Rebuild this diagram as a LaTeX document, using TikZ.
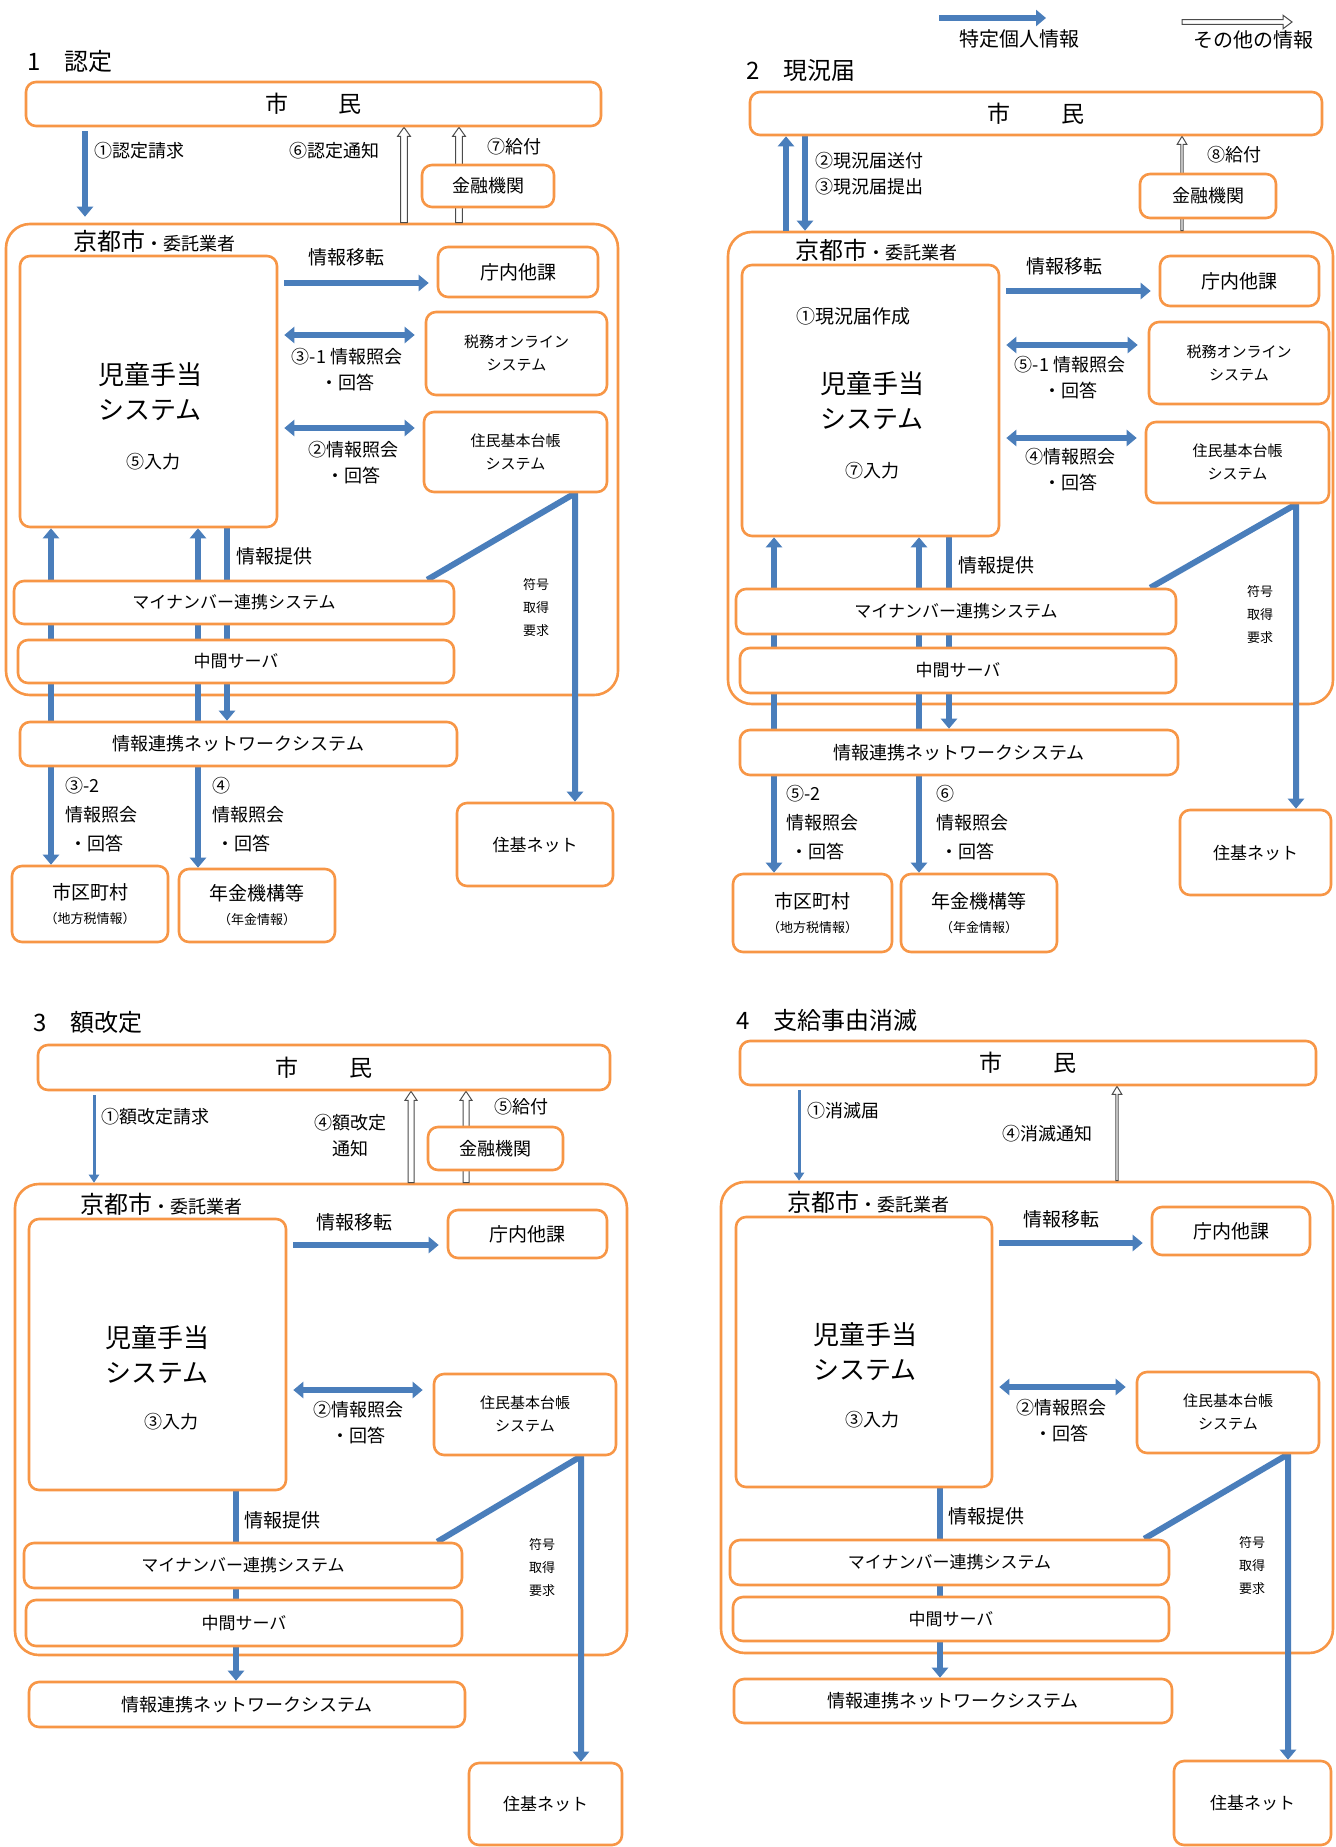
\documentclass[tikz,border=0pt]{standalone}
\usepackage{fontspec}
\setmainfont{Noto Sans CJK JP}
\usetikzlibrary{arrows.meta,calc}
\definecolor{bor}{HTML}{F79646}
\definecolor{arb}{HTML}{4A7EBB}
\pgfdeclarelayer{back}\pgfdeclarelayer{mid}
\pgfsetlayers{back,mid,main}
\newcommand\hollowup[5]{%
 \draw[hollow] let \p1=#1, \p2=#2 in (\x1-#3,\y1) -- (\x1-#3,\y2-#5) -- (\x1-#4,\y2-#5) -- (\x1,\y2) -- (\x1+#4,\y2-#5) -- (\x1+#3,\y2-#5) -- (\x1+#3,\y1) -- cycle;}
\tikzset{
 bb/.style n args={4}{at={({(#1+#3)/2},{(#2+#4)/2})}, minimum width={(#3-#1)*0.5pt}, minimum height={(#4-#2)*0.5pt}},
 box/.style={draw=bor, line width=1.3pt, rounded corners=5pt, fill=white, inner sep=0pt, align=center},
 obox/.style={draw=bor, line width=1.3pt, rounded corners=12pt, inner sep=0pt},
 ba/.style={draw=arb, line width=3pt, -{Triangle[width=8pt,length=5pt]}},
 bd/.style={draw=arb, line width=3pt, {Triangle[width=8pt,length=5pt]}-{Triangle[width=8pt,length=5pt]}},
 bt/.style={draw=arb, line width=1.5pt, -{Triangle[width=5pt,length=4pt]}},
 hollow/.style={draw=black!70, line width=0.5pt, fill=white},
 lb/.style={inner sep=0pt, align=center},
 f65/.style={font=\fontsize{6.5}{11.5}\selectfont},
 f75/.style={font=\fontsize{7.5}{11.5}\selectfont},
 f8/.style={font=\fontsize{8.5}{11}\selectfont},
 f9/.style={font=\fontsize{9}{13}\selectfont},
 f9l/.style={font=\fontsize{9}{14.5}\selectfont},
 f95/.style={font=\fontsize{9.5}{12}\selectfont},
 f10/.style={font=\fontsize{10}{12}\selectfont},
 f11/.style={font=\fontsize{11.5}{14}\selectfont},
 f12/.style={font=\fontsize{12}{14}\selectfont},
 f13/.style={font=\fontsize{13}{17.5}\selectfont},
}
\begin{document}
\begin{tikzpicture}[x=0.5pt,y=-0.5pt]
\begin{pgfonlayer}{back}
\fill[white] (0,0) rectangle (1335,1847);
\end{pgfonlayer}
\useasboundingbox (0,0) rectangle (1335,1847);

% ---------- legend ----------
\coordinate (leg1a) at (939,18); \coordinate (leg1b) at (1046,18);
\coordinate (leg2a) at (1182,22); \coordinate (leg2b) at (1292,22);
\node[lb,f10] (leg1t) at (1019,39) {特定個人情報};
\node[lb,f10] (leg2t) at (1253,40) {その他の情報};

% ---------- panel 1 ----------
\node[lb,f12,anchor=west] (title1) at (27,61) {1　認定};
\node[box,f11,bb={26}{82}{601}{126}] (shimin1) {市\hspace{2.2em}民};
\node[box,f9,bb={422}{165}{554}{207}] (kinyu1) {金融機関};
\begin{pgfonlayer}{back}\node[obox,bb={6}{224}{618}{695}] (outer1) {};\end{pgfonlayer}
\node[lb,anchor=west] (kyoto1) at (73,241) {{\fontsize{12}{14}\selectfont 京都市}{\fontsize{9}{11}\selectfont ・委託業者}};
\node[box,bb={20}{256}{277}{527}] (jidou1) {};
\node[lb,f13] (jidou1t) at (150,392) {児童手当\\システム};
\node[lb,f9] (nyu1) at (153,462) {⑤入力};
\node[box,f95,bb={438}{247}{598}{297}] (chounai1) {庁内他課};
\node[box,f75,bb={426}{312}{607}{395}] (zeimu1) {税務オンライン\\システム};
\node[box,f75,bb={424}{412}{607}{492}] (juki1) {住民基本台帳\\システム};
\node[box,f8,bb={14}{581}{454}{624}] (mynum1) {マイナンバー連携システム};
\node[box,f8,bb={18}{640}{454}{683}] (chukan1) {中間サーバ};
\node[box,f9,bb={20}{722}{457}{766}] (nws1) {情報連携ネットワークシステム};
\node[box,f8,bb={457}{803}{613}{886}] (jukinet1) {住基ネット};
\node[box,bb={12}{866}{168}{942}] (shiku1) {\fontsize{9.5}{13}\selectfont 市区町村\\\fontsize{6.5}{9}\selectfont （地方税情報）};
\node[box,bb={179}{869}{335}{942}] (nenkin1) {\fontsize{9.5}{13}\selectfont 年金機構等\\\fontsize{6.5}{9}\selectfont （年金情報）};
\node[lb,f9,anchor=west] (l1a) at (94,151) {①認定請求};
\node[lb,f9] (l1b) at (334,151) {⑥認定通知};
\node[lb,f9] (l1c) at (514,147) {⑦給付};
\node[lb,f95] (l1d) at (346,257) {情報移転};
\node[lb,f9] (l1e) at (347,370) {③-1 情報照会\\・回答};
\node[lb,f9] (l1f) at (353,463) {②情報照会\\・回答};
\node[lb,f95,anchor=west] (l1g) at (236,556) {情報提供};
\node[lb,f65] (l1h) at (536,608) {符号\\取得\\要求};
\node[lb,f9l,anchor=north west,align=left] (l1i) at (65,777) {③-2\\情報照会\\\ ・回答};
\node[lb,f9l,anchor=north west,align=left] (l1j) at (212,777) {④\\情報照会\\\ ・回答};

% ---------- panel 2 ----------
\node[lb,f12,anchor=west] (title2) at (746,71) {2　現況届};
\node[box,f11,bb={750}{92}{1322}{135}] (shimin2) {市\hspace{2.2em}民};
\node[box,f9,bb={1140}{174}{1276}{218}] (kinyu2) {金融機関};
\begin{pgfonlayer}{back}\node[obox,bb={728}{232}{1333}{704}] (outer2) {};\end{pgfonlayer}
\node[lb,anchor=west] (kyoto2) at (795,250) {{\fontsize{12}{14}\selectfont 京都市}{\fontsize{9}{11}\selectfont ・委託業者}};
\node[box,bb={742}{265}{999}{536}] (jidou2) {};
\node[lb,f95] (gen2) at (853,316) {①現況届作成};
\node[lb,f13] (jidou2t) at (872,401) {児童手当\\システム};
\node[lb,f9] (nyu2) at (872,471) {⑦入力};
\node[box,f95,bb={1160}{256}{1319}{306}] (chounai2) {庁内他課};
\node[box,f75,bb={1149}{322}{1329}{404}] (zeimu2) {税務オンライン\\システム};
\node[box,f75,bb={1146}{422}{1329}{503}] (juki2) {住民基本台帳\\システム};
\node[box,f8,bb={736}{589}{1176}{634}] (mynum2) {マイナンバー連携システム};
\node[box,f8,bb={740}{648}{1176}{693}] (chukan2) {中間サーバ};
\node[box,f9,bb={740}{730}{1178}{775}] (nws2) {情報連携ネットワークシステム};
\node[box,f8,bb={1180}{810}{1331}{895}] (jukinet2) {住基ネット};
\node[box,bb={733}{874}{892}{952}] (shiku2) {\fontsize{9.5}{13}\selectfont 市区町村\\\fontsize{6.5}{9}\selectfont （地方税情報）};
\node[box,bb={901}{874}{1057}{952}] (nenkin2) {\fontsize{9.5}{13}\selectfont 年金機構等\\\fontsize{6.5}{9}\selectfont （年金情報）};
\node[lb,f9,anchor=west,align=left] (l2a) at (815,174) {②現況届送付\\③現況届提出};
\node[lb,f9] (l2c) at (1234,155) {⑧給付};
\node[lb,f95] (l2d) at (1064,266) {情報移転};
\node[lb,f9] (l2e) at (1070,378) {⑤-1 情報照会\\・回答};
\node[lb,f9] (l2f) at (1070,470) {④情報照会\\・回答};
\node[lb,f95,anchor=west] (l2g) at (958,565) {情報提供};
\node[lb,f65] (l2h) at (1260,615) {符号\\取得\\要求};
\node[lb,f9l,anchor=north west,align=left] (l2i) at (786,785) {⑤-2\\情報照会\\\ ・回答};
\node[lb,f9l,anchor=north west,align=left] (l2j) at (936,785) {⑥\\情報照会\\\ ・回答};

% ---------- panel 3 ----------
\node[lb,f12,anchor=west] (title3) at (33,1022) {3　額改定};
\node[box,f11,bb={38}{1045}{610}{1090}] (shimin3) {市\hspace{2.2em}民};
\node[box,f9,bb={428}{1127}{563}{1170}] (kinyu3) {金融機関};
\begin{pgfonlayer}{back}\node[obox,bb={15}{1184}{627}{1655}] (outer3) {};\end{pgfonlayer}
\node[lb,anchor=west] (kyoto3) at (80,1204) {{\fontsize{12}{14}\selectfont 京都市}{\fontsize{9}{11}\selectfont ・委託業者}};
\node[box,bb={29}{1219}{286}{1490}] (jidou3) {};
\node[lb,f13] (jidou3t) at (157,1355) {児童手当\\システム};
\node[lb,f9] (nyu3) at (171,1422) {③入力};
\node[box,f95,bb={448}{1210}{607}{1258}] (chounai3) {庁内他課};
\node[box,f75,bb={434}{1374}{616}{1455}] (juki3) {住民基本台帳\\システム};
\node[box,f8,bb={24}{1543}{462}{1588}] (mynum3) {マイナンバー連携システム};
\node[box,f8,bb={26}{1600}{462}{1646}] (chukan3) {中間サーバ};
\node[box,f9,bb={29}{1682}{465}{1727}] (nws3) {情報連携ネットワークシステム};
\node[box,f8,bb={469}{1763}{622}{1845}] (jukinet3) {住基ネット};
\node[lb,f9,anchor=west] (l3a) at (101,1117) {①額改定請求};
\node[lb,f9] (l3b) at (350,1136) {④額改定\\通知};
\node[lb,f9] (l3c) at (521,1107) {⑤給付};
\node[lb,f95] (l3d) at (354,1222) {情報移転};
\node[lb,f9] (l3f) at (358,1423) {②情報照会\\・回答};
\node[lb,f95,anchor=west] (l3g) at (244,1520) {情報提供};
\node[lb,f65] (l3h) at (542,1568) {符号\\取得\\要求};

% ---------- panel 4 ----------
\node[lb,f12,anchor=west] (title4) at (736,1020) {4　支給事由消滅};
\node[box,f11,bb={740}{1041}{1316}{1085}] (shimin4) {市\hspace{2.2em}民};
\begin{pgfonlayer}{back}\node[obox,bb={721}{1182}{1333}{1653}] (outer4) {};\end{pgfonlayer}
\node[lb,anchor=west] (kyoto4) at (787,1202) {{\fontsize{12}{14}\selectfont 京都市}{\fontsize{9}{11}\selectfont ・委託業者}};
\node[box,bb={736}{1217}{992}{1487}] (jidou4) {};
\node[lb,f13] (jidou4t) at (865,1352) {児童手当\\システム};
\node[lb,f9] (nyu4) at (872,1420) {③入力};
\node[box,f95,bb={1152}{1207}{1310}{1255}] (chounai4) {庁内他課};
\node[box,f75,bb={1137}{1372}{1319}{1453}] (juki4) {住民基本台帳\\システム};
\node[box,f8,bb={730}{1540}{1169}{1585}] (mynum4) {マイナンバー連携システム};
\node[box,f8,bb={733}{1597}{1169}{1641}] (chukan4) {中間サーバ};
\node[box,f9,bb={734}{1679}{1172}{1723}] (nws4) {情報連携ネットワークシステム};
\node[box,f8,bb={1174}{1761}{1331}{1845}] (jukinet4) {住基ネット};
\node[lb,f9,anchor=west] (l4a) at (807,1111) {①消滅届};
\node[lb,f9] (l4b) at (1047,1134) {④消滅通知};
\node[lb,f95] (l4d) at (1061,1219) {情報移転};
\node[lb,f9] (l4f) at (1061,1421) {②情報照会\\・回答};
\node[lb,f95,anchor=west] (l4g) at (948,1516) {情報提供};
\node[lb,f65] (l4h) at (1252,1566) {符号\\取得\\要求};

% ---------- connectors ----------
\begin{pgfonlayer}{mid}
% legend
\draw[ba] (leg1a) -- (leg1b);
\draw[hollow] let \p1=(leg2a), \p2=(leg2b) in (\x1,\y1+1.2pt) -- (\x2-4.5pt,\y1+1.2pt) -- (\x2-4.5pt,\y1+3.4pt) -- (\x2,\y1) -- (\x2-4.5pt,\y1-3.4pt) -- (\x2-4.5pt,\y1-1.2pt) -- (\x1,\y1-1.2pt) -- cycle;
% panel 1
\draw[ba, shorten <=2pt, shorten >=3pt] (shimin1.south -| 85,0) -- (outer1.north -| 85,0);
\hollowup{(outer1.north -| 404,0)}{(shimin1.south -| 404,0)}{1.7pt}{3.2pt}{4.5pt}
\hollowup{(outer1.north -| 459,0)}{(shimin1.south -| 459,0)}{1.7pt}{3.2pt}{4.5pt}
\draw[ba, shorten <=3pt, shorten >=4pt] (jidou1.east |- 0,283) -- (chounai1.west |- 0,283);
\draw[bd, shorten <=3pt, shorten >=5pt] (jidou1.east |- 0,335) -- (zeimu1.west |- 0,335);
\draw[bd, shorten <=3pt, shorten >=4pt] (jidou1.east |- 0,428) -- (juki1.west |- 0,428);
\draw[bd] (jidou1.south -| 51,0) -- (shiku1.north -| 51,0);
\draw[bd] (jidou1.south -| 198,0) -- (nenkin1.north -| 198,0);
\draw[ba] (jidou1.south -| 227,0) -- (nws1.north -| 227,0);
\draw[ba, line join=round] ($(mynum1.north east)+(-28,0)$) -- (juki1.south -| 575,0) -- (jukinet1.north -| 575,0);
% panel 2
\draw[ba] (outer2.north -| 786,0) -- (shimin2.south -| 786,0);
\draw[ba] (shimin2.south -| 805,0) -- (outer2.north -| 805,0);
\hollowup{(outer2.north -| 1182,0)}{(shimin2.south -| 1182,0)}{0.6pt}{2.4pt}{4pt}
\draw[ba, shorten <=3pt, shorten >=4pt] (jidou2.east |- 0,291) -- (chounai2.west |- 0,291);
\draw[bd, shorten <=3pt, shorten >=5pt] (jidou2.east |- 0,345) -- (zeimu2.west |- 0,345);
\draw[bd, shorten <=3pt, shorten >=4pt] (jidou2.east |- 0,438) -- (juki2.west |- 0,438);
\draw[bd] (jidou2.south -| 774,0) -- (shiku2.north -| 774,0);
\draw[bd] (jidou2.south -| 919,0) -- (nenkin2.north -| 919,0);
\draw[ba] (jidou2.south -| 949,0) -- (nws2.north -| 949,0);
\draw[ba, line join=round] ($(mynum2.north east)+(-27,0)$) -- (juki2.south -| 1296,0) -- (jukinet2.north -| 1296,0);
% panel 3
\draw[bt, shorten <=2pt] (shimin3.south -| 94,0) -- (outer3.north -| 94,0);
\hollowup{(outer3.north -| 411,0)}{(shimin3.south -| 411,0)}{1.5pt}{3pt}{4.5pt}
\hollowup{(outer3.north -| 466,0)}{(shimin3.south -| 466,0)}{1.5pt}{3pt}{4.5pt}
\draw[ba, shorten <=3pt, shorten >=4pt] (jidou3.east |- 0,1245) -- (chounai3.west |- 0,1245);
\draw[bd, shorten <=3pt, shorten >=5pt] (jidou3.east |- 0,1390) -- (juki3.west |- 0,1390);
\draw[ba] (jidou3.south -| 236,0) -- (nws3.north -| 236,0);
\draw[ba, line join=round] ($(mynum3.north east)+(-26,0)$) -- (juki3.south -| 581,0) -- (jukinet3.north -| 581,0);
% panel 4
\draw[bt, shorten <=2pt] (shimin4.south -| 799,0) -- (outer4.north -| 799,0);
\hollowup{(outer4.north -| 1117,0)}{(shimin4.south -| 1117,0)}{0.6pt}{2.4pt}{4pt}
\draw[ba, shorten <=3pt, shorten >=4pt] (jidou4.east |- 0,1243) -- (chounai4.west |- 0,1243);
\draw[bd, shorten <=3pt, shorten >=5pt] (jidou4.east |- 0,1387) -- (juki4.west |- 0,1387);
\draw[ba] (jidou4.south -| 940,0) -- (nws4.north -| 940,0);
\draw[ba, line join=round] ($(mynum4.north east)+(-26,0)$) -- (juki4.south -| 1288,0) -- (jukinet4.north -| 1288,0);
\end{pgfonlayer}
\end{tikzpicture}
\end{document}
